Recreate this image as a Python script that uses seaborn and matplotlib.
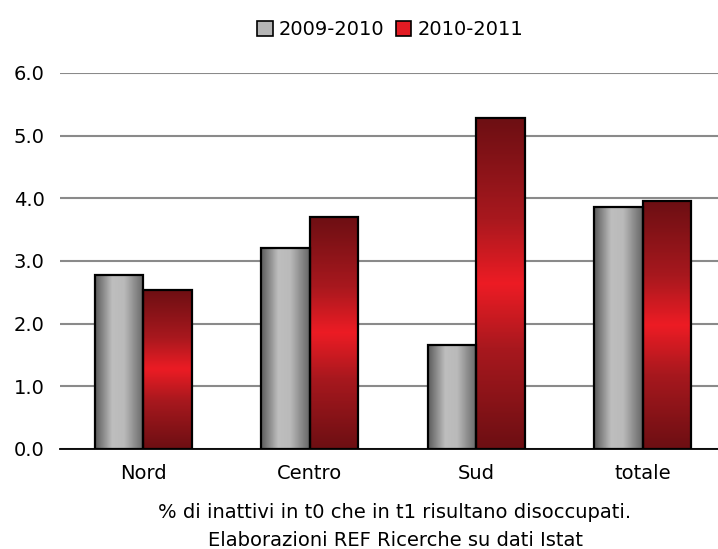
import numpy as np
import pandas as pd
import matplotlib
matplotlib.use("Agg")
import matplotlib.pyplot as plt
import seaborn as sns
from matplotlib.colors import LinearSegmentedColormap
from matplotlib.patches import Patch
from matplotlib.ticker import FixedLocator

# dati
regioni = ['Nord', 'Centro', 'Sud', 'totale']
periodi = ['2009-2010', '2010-2011']
v_0910 = [2.78, 3.20, 1.66, 3.86]
v_1011 = [2.54, 3.71, 5.28, 3.95]

df = pd.DataFrame({
    'regione': regioni * 2,
    'periodo': [periodi[0]] * 4 + [periodi[1]] * 4,
    'valore': v_0910 + v_1011,
})

sns.set_style("white")
plt.rcParams['font.family'] = ['DejaVu Sans']
plt.rcParams['text.color'] = 'black'
plt.rcParams['xtick.color'] = 'black'
plt.rcParams['ytick.color'] = 'black'

fs = 14

fig = plt.figure(figsize=(7.18, 5.49), dpi=100)
ax = fig.add_axes([60 / 718, 100 / 549, 666 / 718, 376 / 549])

sns.barplot(data=df, x='regione', y='valore', hue='periodo', order=regioni,
            hue_order=periodi, palette=['#b5b5b5', '#e31b23'], width=0.58,
            edgecolor='black', linewidth=1.6, legend=False, ax=ax, zorder=3)

# sfumature
cmap_grigio = LinearSegmentedColormap.from_list(
    'grigio', [(0, '#5c5c5c'), (0.35, '#bebebe'), (0.6, '#bababa'), (1, '#676767')])
cmap_rosso = LinearSegmentedColormap.from_list(
    'rosso', [(0, '#6e0f13'), (0.3, '#a8181e'), (0.5, '#ed1c24'), (0.7, '#a8181e'), (1, '#6e0f13')])
grad_h = np.linspace(0, 1, 64).reshape(1, -1)
grad_v = np.linspace(0, 1, 64).reshape(-1, 1)

for i, bar in enumerate(ax.patches):
    x0, y0 = bar.get_x(), bar.get_y()
    w, h = bar.get_width(), bar.get_height()
    if h <= 0:
        continue
    if i < len(regioni):
        img = ax.imshow(grad_h, cmap=cmap_grigio, aspect='auto',
                        extent=(x0, x0 + w, y0, y0 + h), interpolation='bicubic', zorder=2)
    else:
        img = ax.imshow(grad_v, cmap=cmap_rosso, aspect='auto',
                        extent=(x0, x0 + w, y0, y0 + h), interpolation='bicubic', zorder=2)
    img.set_clip_path(bar)
    bar.set_facecolor('none')

ax.set_xlim(-0.5, 3.5)
ax.set_ylim(0, 6)
ax.set_yticks(np.arange(0, 6.1, 1))
ax.set_yticklabels([f'{v:.1f}' for v in np.arange(0, 6.1, 1)])
ax.grid(axis='y', color='#8a8a8a', linewidth=1.5, zorder=0)
ax.grid(axis='x', visible=False)
ax.set_axisbelow(True)

for s in ['top', 'right', 'left']:
    ax.spines[s].set_visible(False)
ax.spines['bottom'].set_color('black')
ax.spines['bottom'].set_linewidth(1.3)

ax.tick_params(axis='x', which='major', length=0, pad=11, labelsize=fs)
ax.xaxis.set_minor_locator(FixedLocator([-0.5, 0.5, 1.5, 2.5, 3.5]))
ax.tick_params(axis='x', which='minor', length=5, width=1, color='black', direction='out')
ax.tick_params(axis='y', length=0, pad=11, labelsize=fs)
ax.set_xlabel('')
ax.set_ylabel('')

maniglie = [Patch(facecolor='#b5b5b5', edgecolor='black', linewidth=1.2),
            Patch(facecolor='#e31b23', edgecolor='black', linewidth=1.2)]
fig.legend(maniglie, periodi, loc='upper center', bbox_to_anchor=(390 / 718, 1 - 3 / 549),
           ncol=2, frameon=False, fontsize=fs, handlelength=0.8, handleheight=0.8,
           handletextpad=0.3, columnspacing=0.6)

fig.text(395 / 718, 1 - 512 / 549, '% di inattivi in t0 che in t1 risultano disoccupati.',
         ha='center', va='center', fontsize=fs)
fig.text(395 / 718, 1 - 540 / 549, 'Elaborazioni REF Ricerche su dati Istat',
         ha='center', va='center', fontsize=fs)

fig.savefig('out.png', dpi=100)
